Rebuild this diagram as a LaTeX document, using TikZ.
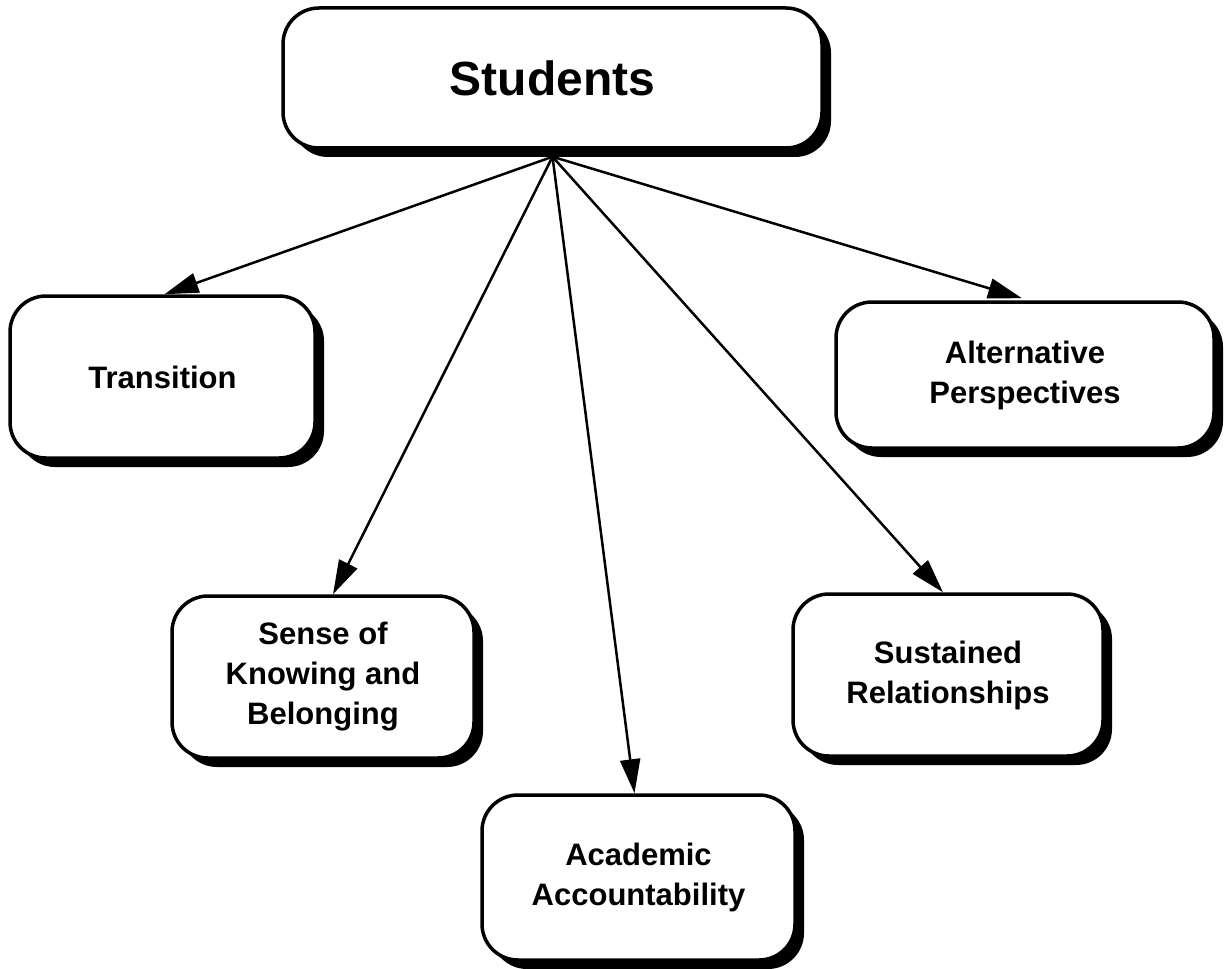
\documentclass[tikz,border=0pt]{standalone}
\usepackage{fontspec}
\setmainfont{Liberation Sans}
\usetikzlibrary{shadows,arrows.meta}
\begin{document}
\begin{tikzpicture}[x=1pt,y=-1pt,
  box/.style={draw=black, line width=3.5pt, fill=white, rounded corners=36pt,
    inner sep=0pt, align=center,
    font=\fontsize{31}{40}\selectfont\bfseries,
    drop shadow={shadow xshift=9pt, shadow yshift=-9pt, fill=black, opacity=1}},
  arr/.style={line width=2.5pt, -{Triangle[length=34pt,width=20pt]}}]
\useasboundingbox (0,0) rectangle (1230,968);
\node[box, minimum width=539pt, minimum height=140pt,
  font=\fontsize{48}{56}\selectfont\bfseries] (students) at (552.5,78) {Students};
\node[box, minimum width=305pt, minimum height=162pt] (trans) at (162.5,377) {Transition};
\node[box, minimum width=378pt, minimum height=146pt] (alt) at (1025,375) {Alternative\\Perspectives};
\node[box, minimum width=302pt, minimum height=162pt] (sense) at (323,677) {Sense of\\Knowing and\\Belonging};
\node[box, minimum width=310pt, minimum height=162pt] (sust) at (948,675) {Sustained\\Relationships};
\node[box, minimum width=313pt, minimum height=165pt] (acad) at (638.5,877.5) {Academic\\Accountability};
\coordinate (hub) at ([yshift=-7pt]students.south);
\draw[arr] (hub) -- ([xshift=2pt]trans.north);
\draw[arr] (hub) -- ([xshift=10pt]sense.north);
\draw[arr] (hub) -- ([xshift=-4pt]acad.north);
\draw[arr] (hub) -- ([xshift=-5pt]sust.north);
\draw[arr] (hub) -- ([xshift=-3pt,yshift=2pt]alt.north);
\end{tikzpicture}
\end{document}
